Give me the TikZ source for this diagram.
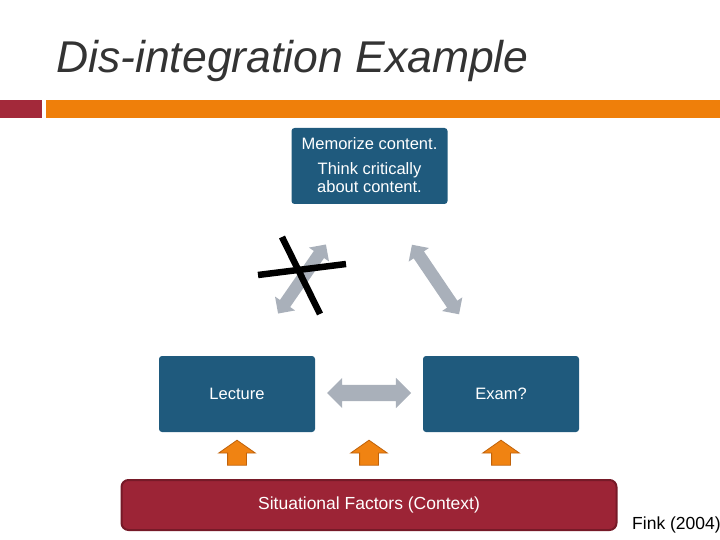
\documentclass[tikz,border=0pt]{standalone}
\usepackage{fontspec}
\setmainfont{Liberation Sans}
\usetikzlibrary{shapes.arrows}
\definecolor{boxblue}{HTML}{1F5A7D}
\definecolor{arrgray}{HTML}{A9B0BA}
\definecolor{orangef}{HTML}{F08312}
\definecolor{oranged}{HTML}{C0620A}
\definecolor{redbar}{HTML}{9C2436}
\definecolor{redbard}{HTML}{761A28}
\definecolor{redsq}{HTML}{A3293A}
\definecolor{topbar}{HTML}{EF7F0A}
\tikzset{
  bluebox/.style={fill=boxblue, rounded corners=3pt, minimum width=156pt, minimum height=76pt, text=white, font=\fontsize{16.5}{19}\selectfont, align=center, inner sep=0pt},
  boxtext/.style={anchor=base, text=white, font=\fontsize{16.5}{19}\selectfont, inner sep=0pt},
  grayarrow/.style={shape=double arrow, fill=arrgray, minimum height=84pt, double arrow tip angle=90, inner sep=0pt, text width=0pt, text depth=0pt},
  uparrow/.style={shape=single arrow, fill=orangef, draw=oranged, line width=0.8pt, rotate=90, minimum height=25pt, minimum width=36pt, single arrow head extend=9pt, single arrow tip angle=110, inner sep=0pt, text width=0pt, text height=18pt, text depth=0pt},
  crossline/.style={line width=6.5pt, black},
}
\begin{document}
\begin{tikzpicture}[x=1pt,y=-1pt]
\useasboundingbox (0,0) rectangle (720,540);
% title
\node[anchor=base west, inner sep=0pt, font=\fontsize{44.5}{50}\selectfont\itshape, text=black!80] (title) at (56,73) {Dis-integration Example};
% top bars
\fill[redsq] (0,100) rectangle (42,118);
\fill[topbar] (46,100) rectangle (720,118);
% boxes
\node[bluebox] (top) at (369.5,166) {};
\node[boxtext] (t1) at (369.5,150) {Memorize content.};
\node[boxtext] (t2) at (369.5,175) {Think critically};
\node[boxtext] (t3) at (369.5,193) {about content.};
\node[bluebox] (lec) at (237,394) {Lecture};
\node[bluebox] (exam) at (501,394) {Exam?};
% gray double arrows
\node[grayarrow, minimum width=30pt, double arrow head extend=7pt, text height=16pt] (hx) at (369,393) {};
\node[grayarrow, minimum width=24pt, double arrow head extend=6pt, text height=12pt, rotate=55.3] (lx) at (302,279) {};
\node[grayarrow, minimum width=24pt, double arrow head extend=6pt, text height=12pt, rotate=-55.9] (rx) at (435.5,279.5) {};
% cross
\coordinate (c1a) at (282,237);
\coordinate (c1b) at (320,314);
\coordinate (c2a) at (258,275);
\coordinate (c2b) at (346,264);
\draw[crossline] (c1a) -- (c1b);
\draw[crossline] (c2a) -- (c2b);
% orange up arrows
\node[uparrow] (o1) at (237,456) {};
\node[uparrow] (o2) at (369,456) {};
\node[uparrow] (o3) at (501,456) {};
% bottom bar
\node[fill=redbar, draw=redbard, line width=2pt, rounded corners=7pt, minimum width=495pt, minimum height=50pt, inner sep=0pt, text=white, font=\fontsize{17.5}{20}\selectfont] (sit) at (369,505) {Situational Factors (Context)};
\node[anchor=base west, inner sep=0pt, font=\fontsize{17.5}{20}\selectfont] (fink) at (632,529) {Fink (2004)};
\end{tikzpicture}
\end{document}
